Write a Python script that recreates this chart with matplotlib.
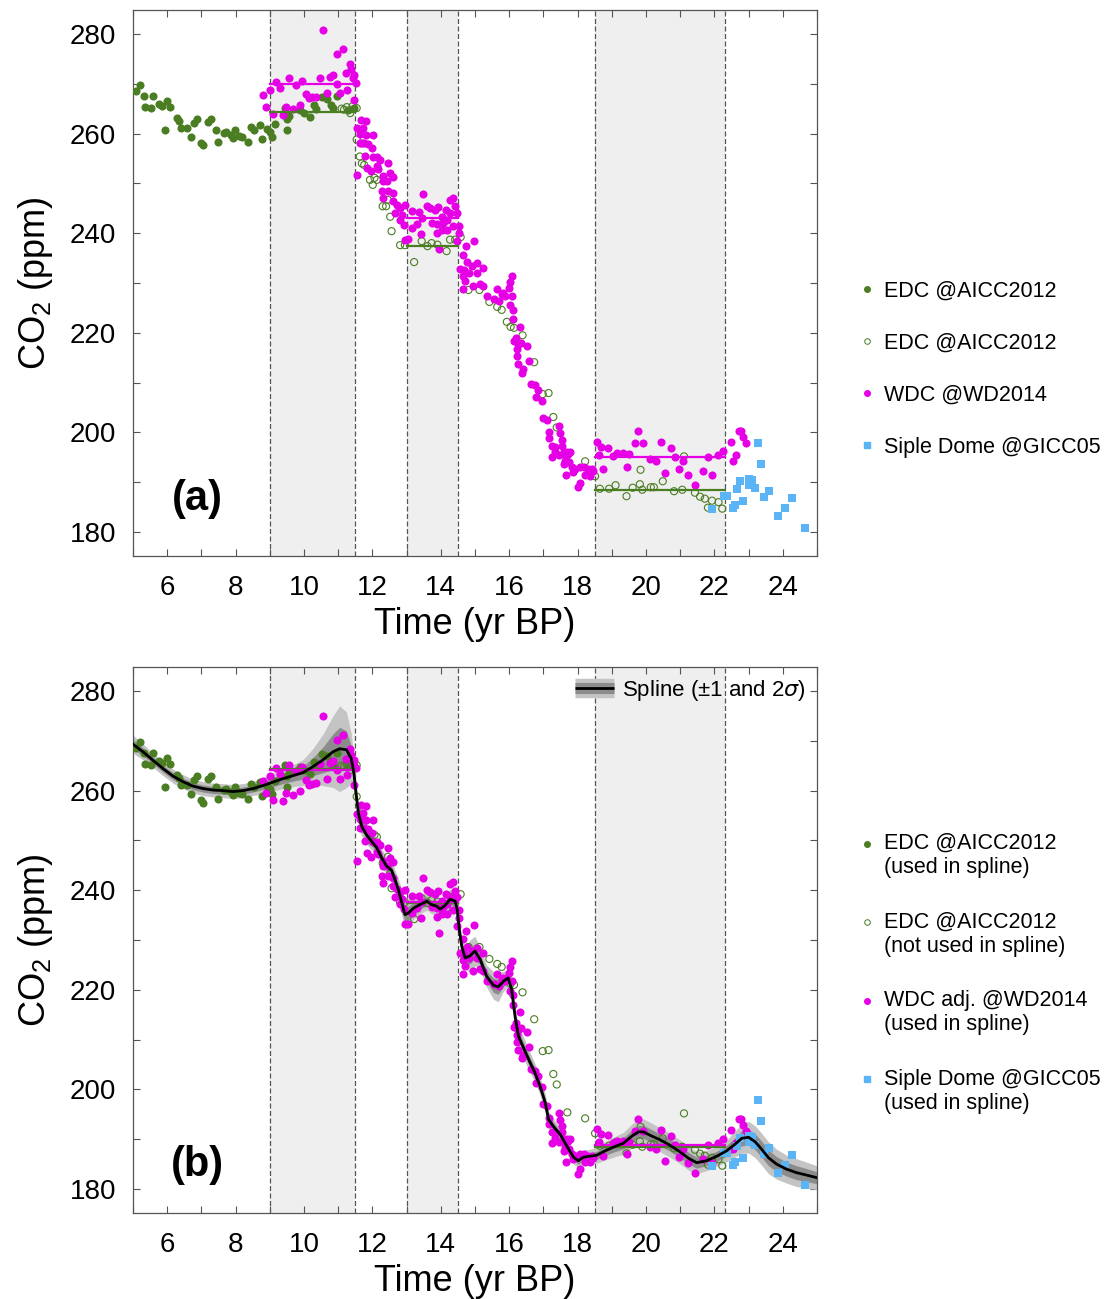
import numpy as np
import matplotlib
matplotlib.use("Agg")
import matplotlib.pyplot as plt
from matplotlib.lines import Line2D
from matplotlib.legend_handler import HandlerLine2D

plt.rcParams['font.family'] = ['Liberation Sans', 'DejaVu Sans']
plt.rcParams['mathtext.default'] = 'regular'

# ---- data (time in kyr BP, CO2 in ppm) ----
edc_used = [(5.08, 268.6), (5.21, 269.7), (5.31, 267.6), (5.36, 265.3), (5.54, 265.2), (5.58, 267.6),
            (5.76, 265.9), (5.86, 265.6), (5.93, 260.8), (5.99, 266.6), (6.09, 265.4), (6.30, 263.2),
            (6.35, 262.6), (6.41, 261.2), (6.58, 261.2), (6.69, 259.4), (6.77, 262.1), (6.88, 263.0),
            (6.98, 258.1), (7.05, 257.6), (7.19, 262.4), (7.27, 263.0), (7.42, 260.8), (7.50, 258.4),
            (7.65, 260.1), (7.73, 260.4), (7.86, 259.8), (7.92, 259.2), (7.97, 260.8), (8.10, 259.6),
            (8.18, 259.4), (8.35, 258.3), (8.46, 261.3), (8.53, 260.8), (8.70, 261.8), (8.78, 259.0),
            (8.92, 260.9), (9.00, 260.4), (9.07, 259.3), (9.14, 262.0), (9.43, 265.2), (9.51, 262.9),
            (9.50, 260.8), (9.56, 263.6), (9.87, 264.8), (9.99, 264.1), (10.17, 263.4), (10.29, 265.7),
            (10.36, 264.9), (10.52, 267.4), (10.68, 266.9), (10.80, 265.8), (10.85, 265.1), (10.96, 267.6),
            (11.29, 264.8), (11.47, 265.1)]

edc_not_used = [(11.10, 265.0), (11.17, 264.8), (11.25, 265.3), (11.35, 264.1), (11.42, 265.5),
                (11.54, 265.1), (11.54, 258.8), (11.63, 255.4), (11.69, 254.0), (11.76, 253.7),
                (11.93, 250.7), (12.01, 249.7), (12.06, 251.1), (12.13, 250.7), (12.30, 245.4),
                (12.40, 245.4), (12.45, 246.7), (12.52, 243.3), (12.56, 240.4), (12.81, 237.6),
                (12.95, 237.6), (13.22, 234.2), (13.44, 238.4), (13.61, 237.4), (13.73, 238.0),
                (13.90, 237.7), (14.17, 236.4), (14.27, 238.7), (14.42, 238.7), (14.58, 239.2),
                (14.81, 228.6), (15.13, 228.6), (15.42, 226.2), (15.65, 225.2), (15.78, 224.6),
                (15.93, 222.2), (16.04, 221.2), (16.14, 221.0), (16.39, 219.5), (16.73, 214.1),
                (16.98, 207.7), (17.15, 207.9), (17.29, 203.1), (17.39, 201.0), (17.70, 195.4),
                (18.22, 194.2), (18.51, 191.2), (18.65, 188.7), (18.92, 188.7), (19.11, 189.4),
                (19.43, 187.2), (19.61, 188.9), (19.82, 189.6), (19.84, 192.5), (19.89, 188.5),
                (20.14, 189.0), (20.23, 189.0), (20.49, 190.2), (20.82, 188.2), (21.06, 188.5),
                (21.11, 195.2), (21.43, 187.9), (21.58, 187.1), (21.72, 186.7), (21.81, 184.9),
                (21.93, 186.3), (22.12, 186.0), (22.23, 184.7)]

wdc = [(8.80, 267.8), (8.90, 265.4), (9.00, 268.8), (9.09, 264.0), (9.19, 270.4), (9.29, 269.2),
       (9.39, 263.8), (9.46, 265.4), (9.56, 271.1), (9.68, 265.0), (9.76, 269.8), (9.87, 265.8),
       (9.95, 270.6), (10.07, 268.0), (10.15, 267.1), (10.24, 267.3), (10.34, 267.4), (10.46, 271.2),
       (10.56, 280.8), (10.67, 268.1), (10.75, 271.4), (10.85, 271.7), (10.96, 275.9), (10.96, 270.0),
       (11.04, 268.1), (11.14, 276.9), (11.24, 272.1), (11.26, 268.8), (11.34, 274.0), (11.38, 272.9),
       (11.43, 271.1), (11.47, 271.8), (11.51, 270.2), (11.45, 266.8), (11.55, 261.1), (11.63, 260.0),
       (11.66, 262.8), (11.69, 258.1), (11.56, 251.6), (11.81, 262.6), (11.72, 261.1), (11.81, 259.8),
       (12.01, 259.8), (11.64, 258.2), (11.76, 258.1), (11.88, 258.0), (11.98, 257.1), (11.78, 255.5),
       (12.03, 255.3), (12.12, 255.3), (12.22, 254.7), (11.83, 253.1), (11.95, 252.4), (12.14, 253.4),
       (12.17, 252.9), (12.45, 254.0), (12.51, 252.1), (12.32, 251.4), (12.61, 251.3), (12.32, 250.4),
       (12.42, 250.4), (12.27, 248.4), (12.47, 248.4), (12.59, 248.1), (12.30, 247.1), (12.61, 246.4),
       (12.71, 245.7), (12.81, 245.1), (12.66, 244.1), (12.86, 243.7), (12.81, 242.7), (12.91, 241.7),
       (12.96, 245.6), (12.95, 238.7), (13.05, 238.8), (13.49, 247.9), (13.15, 244.4), (13.37, 244.2),
       (13.61, 245.5), (13.67, 245.1), (13.83, 244.6), (13.93, 245.3), (13.15, 241.0), (13.31, 241.9),
       (13.44, 243.1), (13.73, 242.1), (13.88, 241.9), (14.03, 243.3), (14.15, 244.7), (14.27, 246.7),
       (14.37, 247.1), (14.27, 244.1), (14.42, 245.4), (14.17, 242.7), (14.07, 242.1), (13.41, 239.9),
       (13.88, 240.1), (14.03, 240.7), (14.17, 240.6), (14.35, 241.4), (14.48, 244.1), (14.54, 241.5),
       (13.96, 236.8), (14.48, 238.4), (14.53, 240.0), (14.98, 238.5), (14.74, 237.4), (14.64, 235.7),
       (14.76, 234.2), (14.68, 232.7), (14.90, 233.4), (15.07, 234.0), (15.22, 233.0), (14.81, 232.0),
       (15.05, 232.0), (14.71, 230.4), (14.64, 228.7), (14.93, 229.4), (15.15, 229.7), (15.36, 227.4),
       (15.63, 228.8), (15.83, 228.0), (16.00, 229.0), (16.07, 231.4), (15.88, 227.4), (14.56, 232.8),
       (14.66, 231.4), (15.24, 229.4), (15.56, 226.7), (15.71, 226.4), (15.78, 227.7), (16.02, 230.2),
       (16.07, 227.4), (16.02, 225.5), (16.10, 224.6), (16.12, 222.7), (16.32, 221.2), (16.20, 219.0),
       (16.14, 218.3), (16.27, 217.7), (16.22, 216.7), (16.34, 218.0), (16.51, 217.3), (16.24, 215.3),
       (16.27, 213.7), (16.41, 212.7), (16.37, 212.0), (16.59, 214.3), (16.64, 209.8), (16.74, 209.5),
       (16.85, 208.5), (16.78, 207.1), (16.95, 206.3), (17.00, 202.8), (17.10, 202.5), (17.46, 201.2),
       (17.15, 200.1), (17.49, 199.8), (17.17, 198.8), (17.53, 198.5), (17.24, 197.3), (17.34, 197.0),
       (17.34, 196.0), (17.47, 195.4), (17.60, 196.0), (17.73, 195.6), (17.24, 195.0), (17.53, 197.3),
       (17.58, 195.6), (17.70, 196.0), (17.78, 196.0), (17.63, 194.3), (17.76, 194.0), (17.60, 193.6),
       (17.83, 193.0), (17.92, 192.6), (18.07, 193.0), (18.19, 193.0), (18.31, 192.6), (18.41, 192.6),
       (17.87, 192.0), (17.66, 191.4), (18.22, 191.4), (18.36, 191.3), (18.07, 189.9), (18.02, 189.0),
       (18.46, 192.3), (18.56, 198.1), (18.67, 197.1), (18.88, 196.8), (18.63, 195.4), (19.02, 195.3),
       (19.16, 195.8), (19.32, 195.8), (19.51, 195.6), (18.73, 192.6), (19.45, 193.1), (19.69, 197.8),
       (19.78, 200.2), (19.91, 197.9), (20.11, 194.6), (20.30, 194.2), (20.43, 198.1), (20.56, 191.9),
       (20.72, 196.8), (20.85, 195.0), (20.96, 192.6), (21.09, 194.3), (21.23, 191.4), (21.44, 189.4),
       (21.68, 192.2), (21.80, 195.0), (21.94, 191.5), (22.11, 195.4), (22.24, 196.2), (22.48, 198.1),
       (22.55, 194.2), (22.63, 195.4), (22.71, 200.2), (22.79, 200.2), (22.85, 199.1), (22.91, 197.8)]

siple = [(21.93, 184.7), (22.29, 187.3), (22.36, 187.2), (22.55, 184.9), (22.60, 185.4), (22.65, 188.6),
         (22.75, 190.2), (22.83, 186.3), (23.00, 190.6), (23.00, 189.5), (23.11, 190.4), (23.19, 188.8),
         (23.28, 197.8), (23.35, 193.7), (23.45, 187.0), (23.60, 188.2), (23.87, 183.3), (24.07, 184.8),
         (24.27, 186.9), (24.64, 180.8)]

# intervals with plateau means
intervals = [(9.0, 11.5), (13.0, 14.5), (18.5, 22.3)]
edc_means = [264.3, 237.5, 188.5]
wdc_means = [270.0, 243.1, 195.0]
wdc_adj_means = [264.1, 237.7, 188.8]
interval_centers = [10.25, 13.75, 20.4]

# spline (panel b) and its 1-sigma
spline_t = [5.0, 5.29, 5.58, 5.88, 6.17, 6.46, 6.75, 7.05, 7.34, 7.63, 7.92, 8.22, 8.51, 8.80,
            9.09, 9.39, 9.68, 9.97, 10.26, 10.56, 10.85, 11.04, 11.24, 11.38, 11.46, 11.52, 11.59,
            11.69, 11.83, 11.98, 12.13, 12.27, 12.42, 12.56, 12.66, 12.76, 12.86, 12.95, 13.05,
            13.20, 13.39, 13.59, 13.73, 13.88, 13.98, 14.12, 14.27, 14.42, 14.48, 14.54, 14.61,
            14.71, 14.85, 15.00, 15.15, 15.34, 15.54, 15.68, 15.83, 15.97, 16.07, 16.17, 16.27,
            16.46, 16.61, 16.75, 16.90, 17.05, 17.15, 17.30, 17.49, 17.68, 17.88, 18.02, 18.17,
            18.36, 18.56, 18.75, 19.04, 19.34, 19.58, 19.78, 19.92, 20.12, 20.41, 20.70, 20.99,
            21.24, 21.48, 21.77, 22.07, 22.36, 22.60, 22.80, 23.00, 23.19, 23.38, 23.58, 23.82,
            24.11, 24.40, 24.70, 24.99]
spline_co2 = [269.3, 267.8, 266.1, 264.4, 262.9, 261.8, 260.9, 260.4, 260.1, 260.0, 259.8, 260.0,
              260.4, 261.0, 261.7, 262.4, 263.0, 263.6, 264.8, 266.2, 267.8, 268.4, 268.2, 266.5,
              263.5, 259.5, 255.5, 252.8, 251.1, 249.8, 248.5, 246.5, 244.8, 244.0, 242.1, 240.1,
              237.5, 235.1, 235.4, 236.4, 237.1, 237.8, 237.1, 236.8, 236.2, 236.9, 238.2, 237.8,
              236.1, 232.1, 228.8, 226.4, 226.8, 227.8, 226.1, 222.7, 220.9, 220.6, 221.7, 222.4,
              220.1, 214.7, 210.7, 207.7, 205.4, 203.4, 200.7, 197.4, 194.0, 192.5, 191.0, 188.7,
              186.4, 185.7, 186.4, 186.6, 186.8, 187.5, 188.4, 189.2, 190.6, 191.5, 191.5, 190.8,
              189.9, 188.8, 187.5, 186.2, 185.3, 185.7, 186.6, 187.7, 189.0, 190.2, 190.4, 189.5,
              188.0, 186.3, 185.0, 184.0, 183.3, 182.8, 182.3]
spline_sig = [0.9, 0.8, 0.7, 0.7, 0.7, 0.7, 0.7, 0.7, 0.7, 0.7, 0.7, 0.7, 0.7, 0.8,
              0.9, 1.0, 1.1, 1.3,
              1.8, 2.6, 3.6, 4.3, 3.8, 2.5,
              1.5, 1.2, 1.2, 1.0,
              0.9, 0.9, 0.9, 0.9, 0.9, 0.9, 1.0, 1.1, 1.3, 1.6,
              1.4, 1.1, 0.9, 0.9, 0.9, 0.9, 0.9, 0.9, 1.0, 1.1,
              1.2, 1.1, 1.0, 1.1, 1.6, 1.5, 1.1,
              1.1, 1.4, 1.5, 1.0, 0.9, 1.0,
              1.0, 1.0, 1.1, 1.0, 0.9, 0.9, 0.9, 0.8, 0.8, 0.7,
              0.7, 0.7, 0.7, 0.7, 0.7, 0.8, 0.9,
              1.0, 1.1, 1.2, 1.3, 1.3, 1.3, 1.2, 1.2, 1.2, 1.2, 1.1, 1.0, 1.0,
              1.1, 1.3, 1.5, 1.6, 1.6, 1.6, 1.6, 1.5, 1.4, 1.4, 1.3, 1.2]

GREEN = '#4b7d23'
MAGENTA = '#e600e6'
BLUE = '#5ab4f5'
SHADE = '#efefef'

edc_t, edc_c = np.array(edc_used).T
edo_t, edo_c = np.array(edc_not_used).T
wdc_t, wdc_c = np.array(wdc).T
sd_t, sd_c = np.array(siple).T
sp_t = np.array(spline_t)
sp_c = np.array(spline_co2)
sp_s = np.array(spline_sig)

# WDC adjustment: shift by the plateau offset between panel (a) and (b)
offsets = np.array(wdc_means) - np.array(wdc_adj_means)
wdc_adj_c = wdc_c - np.interp(wdc_t, interval_centers, offsets)


class TopLineHandler(HandlerLine2D):
    # put the legend marker next to the first line of a two-line label
    def create_artists(self, legend, orig_handle, xdescent, ydescent, width, height,
                       fontsize, trans):
        return super().create_artists(legend, orig_handle, xdescent, ydescent - 1.15 * fontsize,
                                      width, height, fontsize, trans)


fig = plt.figure(figsize=(11.11, 12.99), dpi=100)
ax1 = fig.add_axes([0.1197, 0.5720, 0.6157, 0.4203])
ax2 = fig.add_axes([0.1197, 0.0662, 0.6157, 0.4203])


def base(ax):
    for a, b in intervals:
        ax.axvspan(a, b, color=SHADE, lw=0, zorder=0)
        for xv in (a, b):
            ax.axvline(xv, color='#555555', ls=(0, (4, 2)), lw=0.9, zorder=1)
    ax.set_xlim(5, 25)
    ax.set_ylim(175.2, 284.8)
    ax.set_xticks(np.arange(6, 25, 2))
    ax.set_xticks(np.arange(5, 26, 1), minor=True)
    ax.set_yticks(np.arange(180, 281, 20))
    ax.set_yticks(np.arange(180, 281, 10), minor=True)
    ax.tick_params(which='both', direction='in', top=True, right=True, length=5,
                   width=0.8, color='#555555', labelsize=20)
    ax.tick_params(axis='x', which='major', pad=14)
    ax.tick_params(axis='y', which='major', pad=12)
    for s in ax.spines.values():
        s.set_color('#555555')
        s.set_linewidth(0.9)
    ax.set_xlabel('Time (yr BP)', fontsize=26, labelpad=4)
    ax.set_ylabel('CO$_2$ (ppm)', fontsize=26, labelpad=11)


def points(ax, wdc_vals):
    ax.scatter(edc_t, edc_c, s=34, color=GREEN, lw=0, zorder=3)
    ax.scatter(edo_t, edo_c, s=26, facecolor='none', edgecolor=GREEN, lw=0.8, zorder=3)
    ax.scatter(wdc_t, wdc_vals, s=34, color=MAGENTA, lw=0, zorder=4)
    ax.scatter(sd_t, sd_c, s=28, marker='s', color=BLUE, lw=0, zorder=4)


def legend_handles():
    return [Line2D([], [], ls='', marker='o', ms=4, color=GREEN),
            Line2D([], [], ls='', marker='o', ms=4, mfc='white', mec=GREEN, mew=0.7),
            Line2D([], [], ls='', marker='o', ms=4, color=MAGENTA),
            Line2D([], [], ls='', marker='s', ms=4, color=BLUE)]


# ---- panel (a) ----
base(ax1)
points(ax1, wdc_c)
for (a, b), m1, m2 in zip(intervals, edc_means, wdc_means):
    ax1.plot([a, b], [m1, m1], color=GREEN, lw=1.6, zorder=5)
    ax1.plot([a, b], [m2, m2], color=MAGENTA, lw=1.6, zorder=5)
ax1.text(0.094, 0.104, '(a)', transform=ax1.transAxes, fontsize=30, fontweight='bold',
         ha='center', va='center')

l_a = ['EDC @AICC2012', 'EDC @AICC2012', 'WDC @WD2014', 'Siple Dome @GICC05']
fig.legend(legend_handles(), l_a, loc='upper left', bbox_to_anchor=(862 / 1111, 1 - 281 / 1299),
           frameon=False, fontsize=15.5, handlelength=0.5, handletextpad=0.5,
           labelspacing=1.44, borderpad=0, borderaxespad=0)

# ---- panel (b) ----
base(ax2)
ax2.fill_between(sp_t, sp_c - 2 * sp_s, sp_c + 2 * sp_s, color='#c4c4c4', lw=0, zorder=2)
ax2.fill_between(sp_t, sp_c - sp_s, sp_c + sp_s, color='#8c8c8c', lw=0, zorder=2)
points(ax2, wdc_adj_c)
for (a, b), m1, m2 in zip(intervals, edc_means, wdc_adj_means):
    ax2.plot([a, b], [m1, m1], color=GREEN, lw=1.6, zorder=5)
    ax2.plot([a, b], [m2, m2], color=MAGENTA, lw=1.6, zorder=5)
ax2.plot(sp_t, sp_c, color='black', lw=2, zorder=6)
ax2.text(0.094, 0.088, '(b)', transform=ax2.transAxes, fontsize=30, fontweight='bold',
         ha='center', va='center')

sp_handle = (Line2D([], [], color='#c4c4c4', lw=14, solid_capstyle='butt'),
             Line2D([], [], color='#8c8c8c', lw=8, solid_capstyle='butt'),
             Line2D([], [], color='black', lw=2, solid_capstyle='butt'))
ax2.legend([sp_handle], [r'Spline ($\pm$1 and 2$\mathit{\sigma}$)'], loc='upper right',
           frameon=False, fontsize=16, handlelength=1.75, handletextpad=0.35,
           borderaxespad=0.3, borderpad=0.2)

h_b = legend_handles()
l_b = ['EDC @AICC2012\n(used in spline)', 'EDC @AICC2012\n(not used in spline)',
       'WDC adj. @WD2014\n(used in spline)', 'Siple Dome @GICC05\n(used in spline)']
fig.legend(h_b, l_b, loc='upper left', bbox_to_anchor=(862 / 1111, 1 - 833 / 1299),
           frameon=False, fontsize=15.5, handlelength=0.5, handletextpad=0.5,
           labelspacing=1.55, borderpad=0, borderaxespad=0,
           handler_map={h: TopLineHandler() for h in h_b})

fig.savefig('out.png', dpi=100)
